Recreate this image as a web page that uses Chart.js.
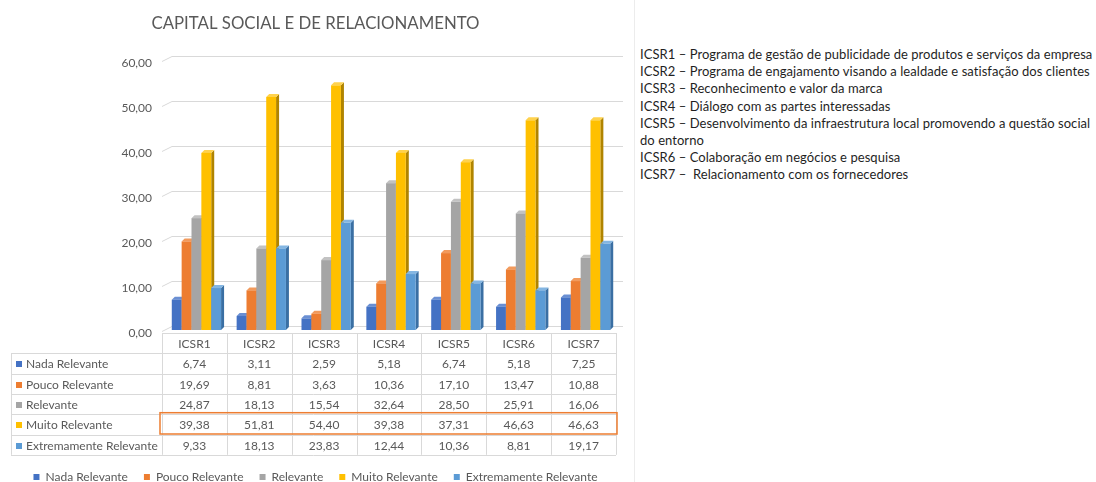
<!DOCTYPE html>
<html lang="pt">
<head>
<meta charset="utf-8">
<title>Capital Social e de Relacionamento</title>
<script src="https://cdn.jsdelivr.net/npm/chart.js@4.4.1/dist/chart.umd.min.js"></script>
<style>
    html, body { margin: 0; padding: 0; background: #fff; overflow: hidden; }
    body { width: 1096px; height: 482px; position: relative; }
    #chartBox { position: absolute; left: 0; top: 0; width: 632px; height: 493px; }
    #divider { position: absolute; left: 634px; top: 0; width: 1px; height: 482px; background: #ececec; }
    #notes {
        position: absolute; left: 640px; top: 46px;
        font-family: Lato, "Open Sans", sans-serif; font-size: 13px; line-height: 17.2px;
        letter-spacing: 0.05px; color: #1f1f1f; white-space: nowrap;
    }
</style>
</head>
<body>
<div id="chartBox"><canvas id="capitalChart" width="632" height="493"></canvas></div>
<div id="divider"></div>
<div id="notes"></div>

<script>
// =========================================
// DATA
// =========================================
const categories = ['ICSR1', 'ICSR2', 'ICSR3', 'ICSR4', 'ICSR5', 'ICSR6', 'ICSR7'];
const seriesNames = ['Nada Relevante', 'Pouco Relevante', 'Relevante', 'Muito Relevante', 'Extremamente Relevante'];
const nadaRelevante = [6.74, 3.11, 2.59, 5.18, 6.74, 5.18, 7.25];
const poucoRelevante = [19.69, 8.81, 3.63, 10.36, 17.10, 13.47, 10.88];
const relevante = [24.87, 18.13, 15.54, 32.64, 28.50, 25.91, 16.06];
const muitoRelevante = [39.38, 51.81, 54.40, 39.38, 37.31, 46.63, 46.63];
const extremamenteRelevante = [9.33, 18.13, 23.83, 12.44, 10.36, 8.81, 19.17];
const yTicks = [0, 10, 20, 30, 40, 50, 60];
const notes = [
    'ICSR1 – Programa de gestão de publicidade de produtos e serviços da empresa',
    'ICSR2 – Programa de engajamento visando a lealdade e satisfação dos clientes',
    'ICSR3 – Reconhecimento e valor da marca',
    'ICSR4 – Diálogo com as partes interessadas',
    'ICSR5 – Desenvolvimento da infraestrutura local promovendo a questão social',
    'do entorno',
    'ICSR6 – Colaboração em negócios e pesquisa',
    'ICSR7 –  Relacionamento com os fornecedores'
];

// colours: front, side, top
const palette = [
    ['#4472C4', '#2F528F', '#6A8FD3'],
    ['#ED7D31', '#B65A1C', '#F29A5C'],
    ['#A5A5A5', '#787878', '#C2C2C2'],
    ['#FFC000', '#B08400', '#FFD24D'],
    ['#5B9BD5', '#3A6FA3', '#84B6E2']
];
const seriesValues = [nadaRelevante, poucoRelevante, relevante, muitoRelevante, extremamenteRelevante];

const FONT = 'Lato, "Open Sans", sans-serif';
const TEXT_GREY = '#595959';
const LINE_GREY = '#d9d9d9';
const fmt = (v) => v.toFixed(2).replace('.', ',');

document.getElementById('notes').innerHTML = notes.map(t => t.replace(/ {2}/g, ' &nbsp;')).join('<br>');

// =========================================
// 3D BARS + GRID + DATA TABLE
// =========================================
const DEPTH = 3;
const SHIFT = 2;

const threeDPlugin = {
    id: 'threeD',
    beforeDatasetsDraw(chart) {
        const ctx = chart.ctx;
        const { chartArea, scales: { y } } = chart;

        // back-wall gridlines with a little perspective kink
        ctx.save();
        ctx.strokeStyle = LINE_GREY;
        ctx.lineWidth = 1;
        y.ticks.forEach(t => {
            const py = Math.round(y.getPixelForValue(t.value)) + 0.5;
            ctx.beginPath();
            ctx.moveTo(chartArea.left, py + 1);
            ctx.lineTo(chartArea.left + 10, py - 4);
            ctx.lineTo(chartArea.right + 7, py - 4);
            ctx.stroke();
        });
        ctx.restore();

        // bars, left series first so each front face hides its neighbour's side
        chart.data.datasets.forEach((ds, i) => {
            const meta = chart.getDatasetMeta(i);
            if (meta.hidden) return;
            const [front, side, top] = palette[i];
            meta.data.forEach(bar => {
                const { x, y: yTop, base, width } = bar.getProps(['x', 'y', 'base', 'width'], true);
                const x0 = x - width / 2 + SHIFT;
                const x1 = x + width / 2 + SHIFT;
                ctx.save();
                ctx.fillStyle = side;
                ctx.beginPath();
                ctx.moveTo(x1, yTop);
                ctx.lineTo(x1 + DEPTH, yTop - DEPTH);
                ctx.lineTo(x1 + DEPTH, base - DEPTH);
                ctx.lineTo(x1, base);
                ctx.closePath();
                ctx.fill();
                ctx.fillStyle = top;
                ctx.beginPath();
                ctx.moveTo(x0, yTop);
                ctx.lineTo(x0 + DEPTH, yTop - DEPTH);
                ctx.lineTo(x1 + DEPTH, yTop - DEPTH);
                ctx.lineTo(x1, yTop);
                ctx.closePath();
                ctx.fill();
                ctx.fillStyle = front;
                ctx.fillRect(x0, yTop, x1 - x0, base - yTop);
                ctx.restore();
            });
        });
        return false;
    },
    afterDraw(chart) {
        const ctx = chart.ctx;
        const { chartArea, scales: { x } } = chart;
        const rowH = 20.3;
        const headTop = chartArea.bottom + 3;
        const tableLeft = 11;
        const colW = (chartArea.right - chartArea.left) / categories.length;
        const bodyTop = headTop + rowH;
        const bodyBottom = bodyTop + rowH * seriesNames.length;

        ctx.save();
        ctx.strokeStyle = LINE_GREY;
        ctx.lineWidth = 1;
        ctx.beginPath();
        // header row lines
        ctx.moveTo(chartArea.left, Math.round(headTop) + 0.5);
        ctx.lineTo(chartArea.right, Math.round(headTop) + 0.5);
        // body horizontal lines
        for (let r = 0; r <= seriesNames.length; r++) {
            const py = Math.round(bodyTop + r * rowH) + 0.5;
            ctx.moveTo(tableLeft, py);
            ctx.lineTo(chartArea.right, py);
        }
        // verticals
        ctx.moveTo(tableLeft + 0.5, bodyTop);
        ctx.lineTo(tableLeft + 0.5, bodyBottom);
        for (let c = 0; c <= categories.length; c++) {
            const px = Math.round(chartArea.left + c * colW) + 0.5;
            ctx.moveTo(px, headTop);
            ctx.lineTo(px, bodyBottom);
        }
        ctx.stroke();

        ctx.font = '12px ' + FONT;
        ctx.fillStyle = TEXT_GREY;
        ctx.textBaseline = 'middle';
        ctx.textAlign = 'center';
        categories.forEach((c, j) => {
            ctx.fillText(c, x.getPixelForValue(j), headTop + rowH / 2 + 1);
        });
        seriesNames.forEach((name, i) => {
            const cy = bodyTop + i * rowH + rowH / 2 + 1;
            ctx.fillStyle = palette[i][0];
            ctx.fillRect(16, Math.round(cy) - 3, 6, 6);
            ctx.fillStyle = TEXT_GREY;
            ctx.textAlign = 'left';
            ctx.fillText(name, 26, cy);
            ctx.textAlign = 'center';
            seriesValues[i].forEach((v, j) => {
                ctx.fillText(fmt(v), x.getPixelForValue(j), cy);
            });
        });

        // highlight box around "Muito Relevante"
        const hi = 3;
        ctx.strokeStyle = '#ED7D31';
        ctx.lineWidth = 1.5;
        ctx.strokeRect(chartArea.left - 2, bodyTop + hi * rowH - 1.5, chartArea.right - chartArea.left + 3, rowH + 1);
        ctx.restore();
    }
};

// =========================================
// CHART
// =========================================
const capitalChart = new Chart(document.getElementById('capitalChart'), {
    type: 'bar',
    data: {
        labels: categories,
        datasets: seriesNames.map((name, i) => ({
            label: name,
            data: seriesValues[i],
            backgroundColor: palette[i][0],
            borderWidth: 0,
            categoryPercentage: 0.76,
            barPercentage: 1
        }))
    },
    options: {
        responsive: false,
        animation: false,
        layout: { padding: { left: 15, right: 16, top: 0, bottom: 0 } },
        plugins: {
            title: {
                display: true,
                text: 'CAPITAL SOCIAL E DE RELACIONAMENTO',
                color: TEXT_GREY,
                font: { family: FONT, size: 16.8, weight: 'normal' },
                padding: { top: 14, bottom: 26 }
            },
            legend: {
                position: 'bottom',
                labels: {
                    boxWidth: 6,
                    boxHeight: 6,
                    padding: 16,
                    color: TEXT_GREY,
                    font: { family: FONT, size: 12 }
                }
            },
            tooltip: { enabled: false }
        },
        scales: {
            x: {
                grid: { display: false },
                border: { display: false },
                ticks: { display: false },
                afterFit: (scale) => { scale.height = 125; }
            },
            y: {
                min: yTicks[0],
                max: yTicks[yTicks.length - 1],
                grid: { display: false, drawTicks: false },
                border: { display: false },
                afterFit: (scale) => { scale.width = 147; },
                afterBuildTicks: (scale) => { scale.ticks = yTicks.map(v => ({ value: v })); },
                ticks: {
                    color: TEXT_GREY,
                    font: { family: FONT, size: 12 },
                    padding: 10,
                    labelOffset: 3,
                    callback: (val) => fmt(val)
                }
            }
        }
    },
    plugins: [threeDPlugin]
});
</script>
</body>
</html>
